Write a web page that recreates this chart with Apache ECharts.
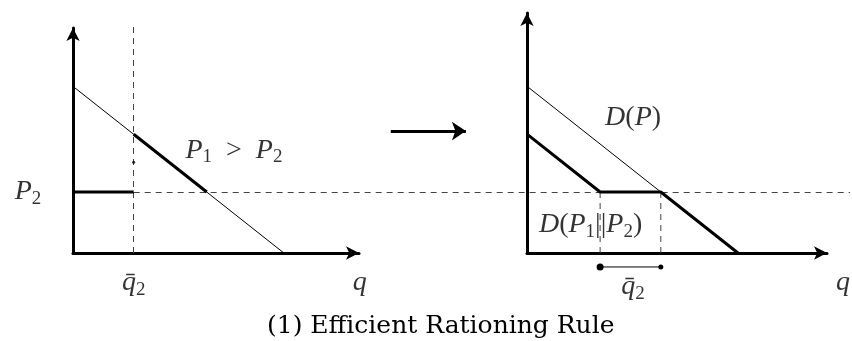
<!DOCTYPE html>
<html lang="en">
<head>
    <meta charset="UTF-8">
    <title>Efficient Rationing Rule</title>
    <script src="https://cdn.jsdelivr.net/npm/echarts/dist/echarts.min.js"></script>
    <style>
        html, body { margin: 0; padding: 0; background: #fff; }
    </style>
</head>
<body>
    <div id="main" style="width: 852px; height: 341px;"></div>

    <script>
        // Model values (same units in both panels)
        var demandTop = 5.85;      // D(P) intercept on price axis
        var demandEnd = 7.3;       // D(P) intercept on quantity axis
        var qBar2 = 2.1;           // rationed quantity q̄2
        var p2 = 2.14;             // low price P2
        var p1AtQbar = 4.17;       // D(P) at q̄2
        var demandAtP2 = 4.63;     // D(P2)
        var residualAtP2 = 2.53;   // D(P2) - q̄2
        var markDot = 3.19;        // little dot on the dashed line (left)

        // Left panel lines
        var leftDemand = [[0, demandTop], [demandEnd, 0]];
        var leftRationed = [[qBar2, p1AtQbar], [demandAtP2, p2]];
        var leftP2 = [[0, p2], [qBar2, p2]];
        var leftVertical = [[qBar2, 0], [qBar2, 8.0]];
        var priceLine = [[qBar2, p2], [26.9, p2]];
        var middleArrow = [[11.0, 4.28], [13.6, 4.28]];

        // Right panel lines
        var rightDemand = [[0, demandTop], [demandAtP2, p2]];
        var rightResidual = [[0, p1AtQbar], [residualAtP2, p2], [demandAtP2, p2], [demandEnd, 0]];
        var rightDashA = [[residualAtP2, 0], [residualAtP2, p2]];
        var rightDashB = [[demandAtP2, 0], [demandAtP2, p2]];
        var bracketY = -0.49;

        var chart = echarts.init(document.getElementById('main'));

        var serif = 'Liberation Serif';
        var rich = {
            i: { fontFamily: serif, fontStyle: 'italic', fontSize: 28, color: '#000' },
            n: { fontFamily: serif, fontSize: 28, color: '#000' },
            s: { fontFamily: serif, fontSize: 19, color: '#000', padding: [14, 0, 0, 0] }
        };

        function line(gi, data, width, dashed) {
            return {
                type: 'line',
                xAxisIndex: gi, yAxisIndex: gi,
                data: data,
                symbol: 'none',
                silent: true,
                lineStyle: {
                    color: dashed ? '#444' : '#000',
                    width: width,
                    type: dashed ? [6, 5] : 'solid'
                },
                z: dashed ? 1 : 3
            };
        }

        // free segments that may leave the grid
        function seg(gi, coords, width, dashed, arrow) {
            return {
                type: 'lines', coordinateSystem: 'cartesian2d',
                xAxisIndex: gi, yAxisIndex: gi, clip: false, silent: true,
                symbol: arrow ? ['none', 'arrow'] : 'none',
                symbolSize: [11, 14],
                lineStyle: {
                    color: dashed ? '#444' : '#000',
                    width: width, opacity: 1,
                    type: dashed ? [6, 5] : 'solid'
                },
                z: dashed ? 1 : 3,
                data: [{ coords: coords }]
            };
        }

        function label(gi, x, y, text) {
            return {
                type: 'scatter',
                xAxisIndex: gi, yAxisIndex: gi,
                data: [[x, y]],
                symbolSize: 0,
                clip: false,
                silent: true,
                label: { show: true, position: 'inside', formatter: text, rich: rich }
            };
        }

        function axisPair(max) {
            return {
                min: 0, max: max,
                type: 'value',
                axisLine: {
                    onZero: false,
                    lineStyle: { color: '#000', width: 3 },
                    symbol: ['none', 'arrow'],
                    symbolSize: [10, 13]
                },
                axisTick: { show: false },
                axisLabel: { show: false },
                splitLine: { show: false }
            };
        }

        var option = {
            animation: false,
            title: {
                text: '(1) Efficient Rationing Rule',
                left: 262,
                top: 309,
                textStyle: { fontFamily: 'DejaVu Serif', fontWeight: 'normal', fontSize: 25, color: '#000' }
            },
            grid: [
                { left: 73, top: 28, width: 286, height: 225 },
                { left: 527, top: 13, width: 300, height: 240 }
            ],
            xAxis: [
                Object.assign(axisPair(9.9), { gridIndex: 0 }),
                Object.assign(axisPair(10.38), { gridIndex: 1 })
            ],
            yAxis: [
                Object.assign(axisPair(7.9), { gridIndex: 0 }),
                Object.assign(axisPair(8.42), { gridIndex: 1 })
            ],
            series: [
                line(0, leftDemand, 1),
                line(0, leftRationed, 3),
                line(0, leftP2, 3),
                seg(0, leftVertical, 1, true),
                seg(0, priceLine, 1, true),
                {
                    type: 'scatter', xAxisIndex: 0, yAxisIndex: 0,
                    data: [[qBar2, markDot]], symbolSize: 3,
                    itemStyle: { color: '#000' }, silent: true
                },
                seg(0, middleArrow, 3, false, true),
                label(0, -1.56, p2, '{i|P}{s|2}'),
                label(0, qBar2, -1.05, '{i|q̄}{s|2}'),
                label(0, 9.93, -1.05, '{i|q}'),
                label(0, 5.57, 3.61, '{i|P}{s|1}{n|  >  }{i|P}{s|2}'),

                line(1, rightDemand, 1),
                line(1, rightResidual, 3),
                line(1, rightDashA, 1, true),
                line(1, rightDashB, 1, true),
                {
                    type: 'line', xAxisIndex: 1, yAxisIndex: 1, clip: false, silent: true,
                    data: [
                        { value: [residualAtP2, bracketY], symbolSize: 7 },
                        { value: [demandAtP2, bracketY], symbolSize: 5 }
                    ],
                    symbol: 'circle', showSymbol: true,
                    itemStyle: { color: '#000' },
                    lineStyle: { color: '#000', width: 1 }
                },
                label(1, 3.67, 4.74, '{i|D}{n|(}{i|P}{n|)}'),
                label(1, 2.2, 0.98, '{i|D}{n|(}{i|P}{s|1}{n|||}{i|P}{s|2}{n|)}'),
                label(1, 3.67, -1.19, '{i|q̄}{s|2}'),
                label(1, 10.93, -1.05, '{i|q}')
            ]
        };

        chart.setOption(option);
    </script>
</body>
</html>
